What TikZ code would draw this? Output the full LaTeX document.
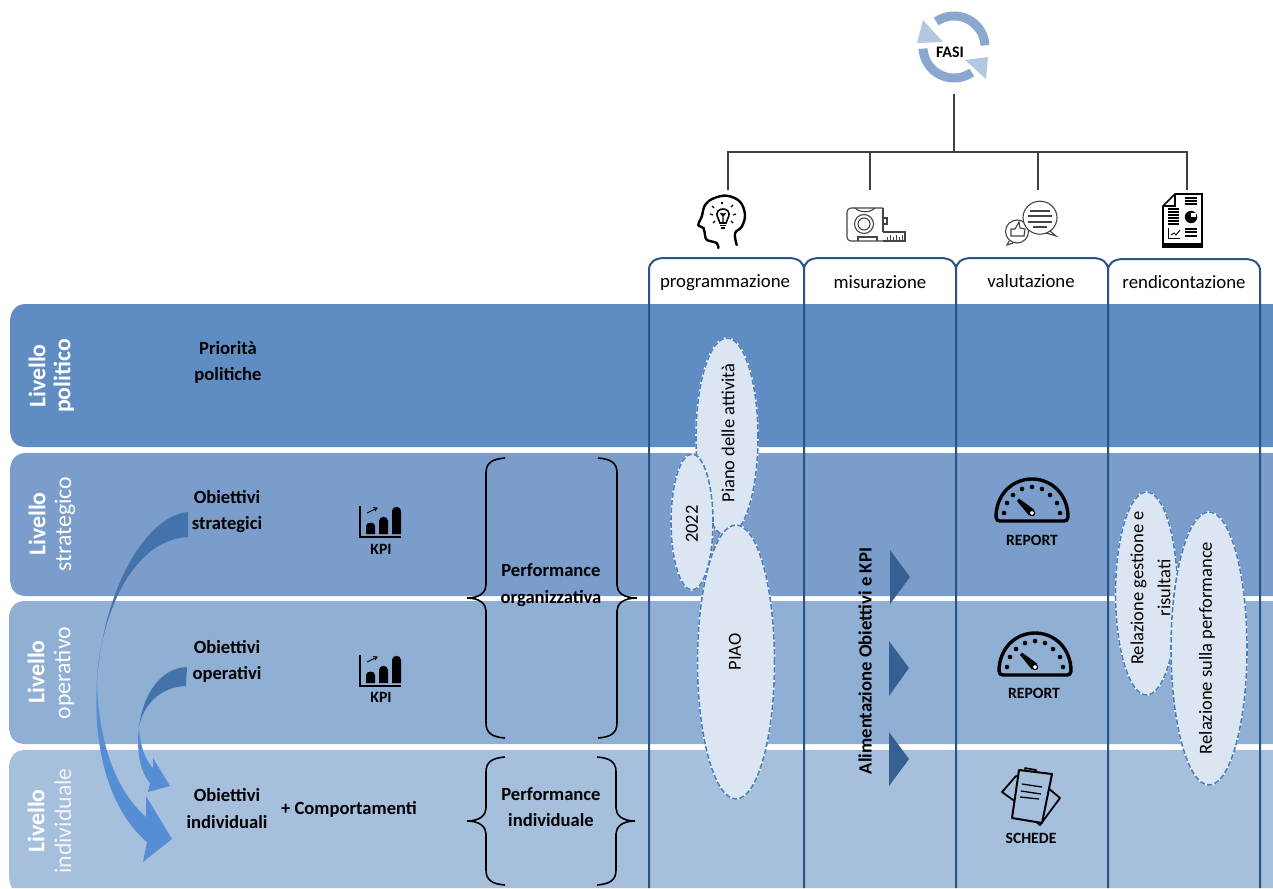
\documentclass[tikz,border=0pt]{standalone}
\usepackage{fontspec}
\setmainfont{Carlito}
\definecolor{bandA}{HTML}{5F8CC3}
\definecolor{bandB}{HTML}{7A9DCB}
\definecolor{bandC}{HTML}{8FAFD5}
\definecolor{bandD}{HTML}{A6BFDD}
\definecolor{colline}{HTML}{2A5487}
\definecolor{ellfill}{HTML}{DCE6F2}
\definecolor{elldash}{HTML}{4A7EBB}
\definecolor{tridark}{HTML}{376092}
\definecolor{arrdark}{HTML}{4472AB}
\definecolor{arrbright}{HTML}{558ED5}
\definecolor{cycA}{HTML}{8AA8CF}
\definecolor{cycB}{HTML}{B4C7E0}
\definecolor{treeline}{HTML}{404040}
\definecolor{icongrey}{HTML}{444444}
\tikzset{
  x=1pt,y=-1pt,
  bandleft/.style={white,rotate=90,inner sep=0pt,font=\fontsize{23.8}{23.8}\selectfont\bfseries},
  bandlefttwo/.style={white,rotate=90,inner sep=0pt,font=\fontsize{23.8}{23.8}\selectfont},
  blabel/.style={inner sep=0pt,align=center,font=\fontsize{18.6}{26.3}\selectfont\bfseries},
  smalllabel/.style={inner sep=0pt,font=\fontsize{15.7}{15.7}\selectfont\bfseries},
  collabel/.style={inner sep=0pt,font=\fontsize{18.8}{18.8}\selectfont},
  vtext/.style={inner sep=0pt,rotate=90,align=center,font=\fontsize{18.5}{27}\selectfont},
  ell/.style={draw=white,fill=ellfill,line width=1.6pt,postaction={draw=elldash,line width=1.6pt,dash pattern=on 5.5pt off 2pt}},
  brc/.style={draw=black,line width=1.6pt},
  colframe/.style={draw=colline,line width=2pt},
  treeedge/.style={draw=treeline,line width=1.9pt},
  tri/.style={fill=tridark},
  iconline/.style={draw=icongrey,line width=1.1pt},
  gaugeicon/.pic={
    \draw[black,line width=3.4pt,line join=round] (-36,4) .. controls (-36,-18) and (-20,-34) .. (0,-34) .. controls (20,-34) and (36,-18) .. (36,4) .. controls (36,7) and (34,8) .. (32,8) -- (-32,8) .. controls (-34,8) and (-36,7) .. (-36,4) -- cycle;
    \foreach \p in {(-28,0),(-25,-10),(-19,-18),(-10,-24),(0,-26),(10,-24),(18,-18),(25,-10),(28,0)}
      \fill[black] \p circle[radius=2.3pt];
    \fill[black] (-15,-12) -- (-13,-14.5) -- (2,-3.5) -- (-3,2.5) -- cycle;
    \draw[black,fill=white,line width=1.2pt] (0,0) circle[radius=2.6pt];
  },
  kpiicon/.pic={
    \draw[black,line width=1.5pt] (0,-31) -- (0,0) -- (41,0);
    \fill[black] (6,-3) -- (6,-11) .. controls (6,-15.5) and (15,-15.5) .. (15,-11) -- (15,-3) -- cycle;
    \fill[black] (19,-3) -- (19,-16) .. controls (19,-21.5) and (28,-21.5) .. (28,-16) -- (28,-3) -- cycle;
    \fill[black] (32,-3) -- (32,-26) .. controls (32,-31.5) and (41,-31.5) .. (41,-26) -- (41,-3) -- cycle;
    \draw[black,line width=0.9pt] (7,-24) -- (17,-29);
    \draw[black,line width=0.9pt] (13,-29.5) -- (17,-29) -- (15,-26);
  },
}
\begin{document}
\begin{tikzpicture}
\useasboundingbox (0,0) rectangle (1273,888);
\fill[white] (0,0) rectangle (1273,888);
% bands
\fill[bandA] (1273,304) -- (26,304) .. controls (15,304) and (10,312) .. (10,322) -- (10,429) .. controls (10,440) and (15,447) .. (26,447) -- (1273,447) -- cycle;
\fill[bandB] (1273,453) -- (26,453) .. controls (15,453) and (10,461) .. (10,471) -- (10,578) .. controls (10,589) and (15,596) .. (26,596) -- (1273,596) -- cycle;
\fill[bandC] (1273,601) -- (25,601) .. controls (14,601) and (9,609) .. (9,619) -- (9,726) .. controls (9,737) and (14,744) .. (25,744) -- (1273,744) -- cycle;
\fill[bandD] (1273,750) -- (25,750) .. controls (14,750) and (9,758) .. (9,768) -- (9,875) .. controls (9,880) and (10,885) .. (12,888) -- (1273,888) -- cycle;
% column frames
\draw[colframe] (649,888) -- (649,270) .. controls (649,262) and (655,258) .. (665,258) -- (788,258) .. controls (798,258) and (804,262) .. (804,270) -- (804,888);
\draw[colframe] (804,270) .. controls (804,262) and (810,258) .. (820,258) -- (940,258) .. controls (950,258) and (956,262) .. (956,270) -- (956,888);
\draw[colframe] (956,270) .. controls (956,262) and (962,258) .. (972,258) -- (1092,258) .. controls (1102,258) and (1108,262) .. (1108,270) -- (1108,888);
\draw[colframe] (1108,271) .. controls (1108,263) and (1114,259) .. (1124,259) -- (1244,259) .. controls (1254,259) and (1260,263) .. (1260,271) -- (1260,888);
% column labels
\node[collabel] (cprog) at (725,283) {programmazione};
\node[collabel] (cmis) at (880,282) {misurazione};
\node[collabel] (cval) at (1031,281) {valutazione};
\node[collabel] (crend) at (1184,282) {rendicontazione};
% tree
\coordinate (fasitail) at (954,94);
\coordinate (hub) at (954,152);
\coordinate (hubA) at (728,152);
\coordinate (hubB) at (870,152);
\coordinate (hubC) at (1038,152);
\coordinate (hubD) at (1187,152);
\coordinate (iconA) at (728,190);
\coordinate (iconB) at (870,190);
\coordinate (iconC) at (1038,190);
\coordinate (iconD) at (1187,190);
\draw[treeedge] (fasitail) -- (hub);
\draw[treeedge] (iconA) -- (hubA) -- (hubD) -- (iconD);
\draw[treeedge] (hubB) -- (iconB);
\draw[treeedge] (hubC) -- (iconC);
% FASI cycle
\draw[cycA,line width=9pt] plot[domain=3:125,samples=40] ({954+31*cos(\x)},{47-31*sin(\x)});
\draw[cycA,line width=9pt] plot[domain=183:305,samples=40] ({954+31*cos(\x)},{47-31*sin(\x)});
\fill[cycB] (923,20) -- (917,43) -- (943,42) -- cycle;
\fill[cycB] (988,57) -- (965,60) -- (986,79) -- cycle;
\node[inner sep=0pt,font=\fontsize{16}{16}\selectfont\bfseries] (fasi) at (950,52) {FASI};
% head icon
\draw[black,line width=2.4pt,line cap=round] plot[smooth,tension=0.6] coordinates {(718.3,248) (716.7,243) (707,240) (705,235) (703.5,228) (698.3,225) (701.7,216.7) (705,205) (713.3,198.5) (726.7,195.7) (740,201.7) (745,215) (741.7,226.7) (735,233.3) (736.7,245)};
\draw[black,line width=1.6pt] (718,218) .. controls (712,206) and (734,206) .. (728,218) -- (726,223) -- (720,223) -- cycle;
\draw[black,line width=1.5pt] (720,225.5) -- (726,225.5) (721,228) -- (725,228);
\draw[black,line width=1.3pt] (723,222) -- (723,213) (720.5,213) -- (723,216) -- (725.5,213);
\foreach \a/\b/\c/\d in {710/214/713/215,712/206/714/208,722/202/722/204,733/205/731/207,736/214/733/215,713/223/715/221,733/223/731/221}
  \draw[black,line width=1.2pt] (\a,\b) -- (\c,\d);
% tape icon
\draw[iconline,rounded corners=4pt] (883,208) -- (847,208) -- (847,241) -- (883,241);
\draw[iconline] (883,208) -- (883,232);
\draw[iconline] (855,208) .. controls (860,213) and (870,213) .. (875,208);
\draw[iconline] (864,224) circle[radius=9.5pt];
\draw[iconline] (864,224) circle[radius=6pt];
\draw[iconline] (858,241) -- (858,237) -- (877,237) -- (877,241);
\draw[iconline] (883,218) rectangle (887,224);
\draw[iconline] (883,232) -- (905,232) -- (905,241) -- (883,241);
\foreach \t/\h in {887/237,890/235,893/237,896/235,899/237,902/235}
  \draw[icongrey,line width=0.8pt] (\t,241) -- (\t,\h);
% bubbles icon
\draw[iconline] (1017,231.5) circle[radius=11.5pt];
\draw[iconline] (1009,241) -- (1007,245) -- (1013,243);
\draw[iconline] (1011,236) -- (1011,229) -- (1015,229) -- (1019,222) -- (1020,228) -- (1025,229) -- (1024,236) -- cycle;
\draw[iconline,fill=white] (1040,217.7) ellipse[x radius=17pt,y radius=16.5pt];
\draw[iconline] (1050,231) -- (1056,236) -- (1046,233);
\foreach \yy/\xa/\xb in {211/1030/1050,216/1028/1052,222/1028/1052,227/1033/1047}
  \draw[icongrey,line width=1.1pt] (\xa,\yy) -- (\xb,\yy);
% report icon
\draw[black,fill=white,line width=1.6pt] (1175,194) -- (1202,194) -- (1202,247) -- (1163,247) -- (1163,206) -- cycle;
\draw[black,line width=1.2pt] (1175,194) -- (1175,206) -- (1163,206);
\fill[black] (1163,243) rectangle (1202,248);
\foreach \yy in {198,201,204,229,232,236}
  \draw[black,line width=1.2pt] (1185,\yy) -- (1197,\yy);
\foreach \yy in {209,212,215,218,221,224}
  \draw[black,line width=1.1pt] (1168,\yy) -- (1179,\yy);
\fill[black] (1191,217) circle[radius=6.2pt];
\fill[white] (1191,217) -- (1191,212.5) -- (1195.5,212.5) -- (1195.5,217) -- cycle;
\draw[black,line width=1pt] (1168,228) -- (1168,238) -- (1180,238);
\draw[black,line width=0.9pt] (1171,235) -- (1174,233) -- (1176,235) -- (1180,230);
% curved arrows
\fill[arrdark] (188,512) .. controls (150,515) and (105,580) .. (97,680) .. controls (100,620) and (130,540) .. (188,537) -- cycle;
\fill[arrbright] (97,680) .. controls (92,760) and (115,815) .. (147,842) -- (143,862) -- (172,839) -- (146,796) -- (146,817) .. controls (115,790) and (98,740) .. (97,680) -- cycle;
\fill[arrdark] (187,667) .. controls (160,668) and (143,695) .. (139,727) .. controls (143,705) and (160,687) .. (186,686) -- cycle;
\fill[arrbright] (139,727) .. controls (136,750) and (140,772) .. (150,783) -- (148,792) -- (170,786) -- (153,758) -- (153,768) .. controls (145,760) and (140,745) .. (139,727) -- cycle;
% band labels
\node[bandleft] (l1a) at (37,376) {Livello};
\node[bandleft] (l1b) at (64,376) {politico};
\node[bandleft] (l2a) at (37,524) {Livello};
\node[bandlefttwo] (l2b) at (65,524) {strategico};
\node[bandleft] (l3a) at (36,672) {Livello};
\node[bandlefttwo] (l3b) at (64,673) {operativo};
\node[bandleft] (l4a) at (36,821) {Livello};
\node[bandlefttwo,text=white!85!bandD] (l4b) at (63,821) {individuale};
% labels
\node[blabel] (prio) at (228,362.5) {Priorità\\politiche};
\node[blabel] (obs) at (227,511.5) {Obiettivi\\strategici};
\node[blabel] (obo) at (227,661.5) {Obiettivi\\operativi};
\node[blabel] (obi) at (227,808.5) {Obiettivi\\individuali};
\node[blabel] (comp) at (349,809) {+ Comportamenti};
\node[blabel] (perfo) at (551,585) {Performance\\organizzativa};
\node[blabel] (perfi) at (551,807) {Performance\\individuale};
% KPI
\pic at (360,537) {kpiicon};
\node[smalllabel] (kpia) at (381,549) {KPI};
\pic at (360,686) {kpiicon};
\node[smalllabel] (kpib) at (381,697) {KPI};
% braces
\draw[brc] (505,458) .. controls (492,459) and (486,463) .. (486,473) -- (486,585) .. controls (486,592) and (480,598) .. (467,598) .. controls (480,598) and (486,604) .. (486,611) -- (486,723) .. controls (486,733) and (492,737) .. (505,738);
\draw[brc] (598,458) .. controls (611,459) and (617,463) .. (617,473) -- (617,585) .. controls (617,592) and (623,598) .. (637,598) .. controls (623,598) and (617,604) .. (617,611) -- (617,723) .. controls (617,733) and (611,737) .. (598,738);
\draw[brc] (505,757) .. controls (492,758) and (486,762) .. (486,772) -- (486,808) .. controls (486,815) and (480,821) .. (467,821) .. controls (480,821) and (486,827) .. (486,834) -- (486,870) .. controls (486,880) and (492,884) .. (505,885);
\draw[brc] (597,757) .. controls (610,758) and (616,762) .. (616,772) -- (616,808) .. controls (616,815) and (622,821) .. (635,821) .. controls (622,821) and (616,827) .. (616,834) -- (616,870) .. controls (616,880) and (610,884) .. (597,885);
% ellipses
\draw[ell] (727,437) ellipse[x radius=31pt,y radius=99pt];
\draw[ell] (692,522) ellipse[x radius=21pt,y radius=68pt];
\draw[ell] (736,662) ellipse[x radius=38.5pt,y radius=137pt];
\draw[ell] (1146.5,593.5) ellipse[x radius=31pt,y radius=101.5pt];
\draw[ell] (1209,648.5) ellipse[x radius=38pt,y radius=136.5pt];
\node[vtext] (piano) at (728,433) {Piano delle attività};
\node[vtext] (y2022) at (692,524) {2022};
\node[vtext] (piao) at (735,652) {PIAO};
\node[vtext] (relg) at (1150.5,588) {Relazione gestione e\\risultati};
\node[vtext] (rels) at (1207,648) {Relazione sulla performance};
\node[vtext,font=\fontsize{18.7}{18.7}\selectfont\bfseries] (alim) at (865,661) {Alimentazione Obiettivi e KPI};
% triangles
\fill[tri] (890,550) -- (910,577) -- (890,604) -- cycle;
\fill[tri] (889,641) -- (909,668) -- (889,696) -- cycle;
\fill[tri] (889,732) -- (909,759) -- (889,786) -- cycle;
% gauges
\pic at (1032,513) {gaugeicon};
\node[smalllabel] (repa) at (1032,540) {REPORT};
\pic at (1035,667) {gaugeicon};
\node[smalllabel] (repb) at (1034,693) {REPORT};
% schede icon
\draw[black,fill=bandD,line width=1.8pt,line join=round] (1002,792) -- (1016,776) -- (1040,785) -- (1030,812) -- cycle;
\draw[black,fill=bandD,line width=1.8pt,line join=round] (1036,778) -- (1060,798) -- (1040,825) -- (1024,812) -- cycle;
\draw[black,fill=bandD,line width=1.6pt,line join=round] (1025,768) -- (1036,770) -- (1030,790) -- cycle;
\draw[black,fill=bandD,line width=2pt,line join=round] (1019,770) -- (1052,774) -- (1042,823) -- (1012,818) -- cycle;
\foreach \a/\b/\c/\d in {1022/784/1042/787,1021/791/1041/794,1020/797/1039/799}
  \draw[black,line width=1.3pt] (\a,\b) -- (\c,\d);
\node[smalllabel] (sch) at (1031,838) {SCHEDE};
\end{tikzpicture}
\end{document}
